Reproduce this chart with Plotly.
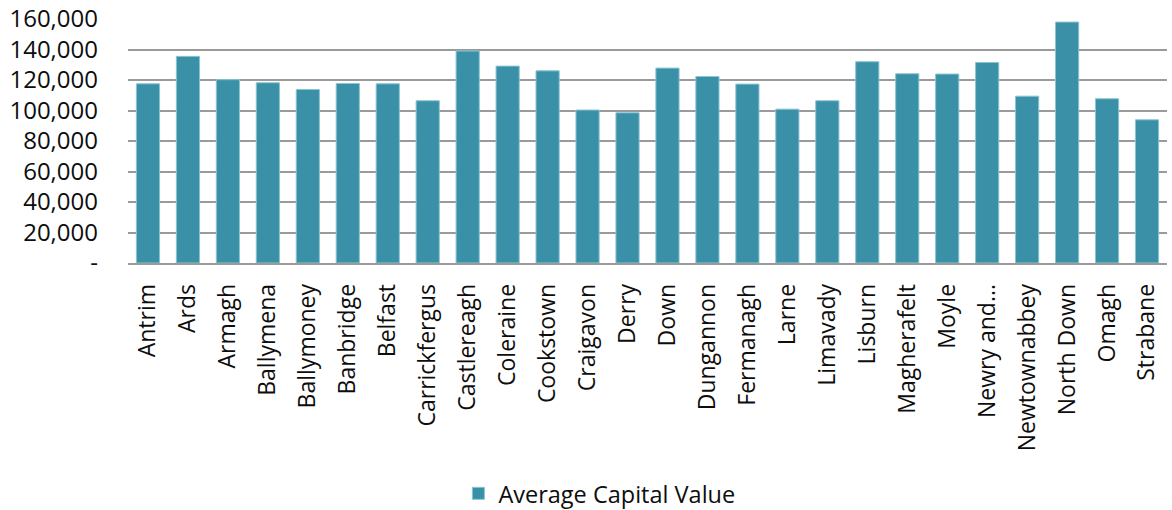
import plotly.graph_objects as go

categories = ["Antrim", "Ards", "Armagh", "Ballymena", "Ballymoney", "Banbridge", "Belfast",
              "Carrickfergus", "Castlereagh", "Coleraine", "Cookstown", "Craigavon", "Derry",
              "Down", "Dungannon", "Fermanagh", "Larne", "Limavady", "Lisburn", "Magherafelt",
              "Moyle", "Newry and...", "Newtownabbey", "North Down", "Omagh", "Strabane"]
values = [117500, 135500, 120200, 118200, 113800, 117700, 117500,
          106400, 139000, 129100, 126000, 100300, 98500,
          127800, 122300, 117300, 100900, 106400, 132000, 124100,
          123900, 131500, 109400, 158000, 107700, 93900]
tick_vals = [0, 20000, 40000, 60000, 80000, 100000, 120000, 140000, 160000]
tick_text = ["-", "20,000", "40,000", "60,000", "80,000", "100,000", "120,000", "140,000", "160,000"]
series_name = "Average Capital Value"

fig = go.Figure()
fig.add_trace(go.Bar(
    x=categories, y=values, name=series_name,
    marker=dict(color="#3990A7", line=dict(color="#8cc4d2", width=1)),
    showlegend=True,
))

txt = "#0d0d0d"
fig.update_layout(
    width=1172, height=510,
    margin=dict(l=128, r=5, t=19, b=247, autoexpand=False),
    paper_bgcolor="white", plot_bgcolor="white",
    font=dict(family="Open Sans", size=22, color=txt),
    bargap=0.42,
    showlegend=True,
    legend=dict(orientation="h", x=0.318, xanchor="left", y=-0.945, yanchor="middle",
                font=dict(family="Open Sans", size=23.5, color=txt)),
    xaxis=dict(tickangle=-90, showgrid=False, showline=True, linecolor="#9a9a9a", linewidth=1.5,
               ticks="", ticklabelstandoff=10, automargin=False,
               tickfont=dict(family="Open Sans", size=23, color=txt)),
    yaxis=dict(range=[0, 160000], tickvals=tick_vals, ticktext=tick_text,
               showgrid=True, gridcolor="#9a9a9a", gridwidth=1.5, zeroline=False,
               showline=False, ticks="", ticklabelstandoff=29, automargin=False,
               tickfont=dict(family="Open Sans", size=24, color=txt)),
)

fig.write_html("out.html", config={"displayModeBar": False},
               post_script="document.body.style.margin='0';document.body.style.overflow='hidden';")
